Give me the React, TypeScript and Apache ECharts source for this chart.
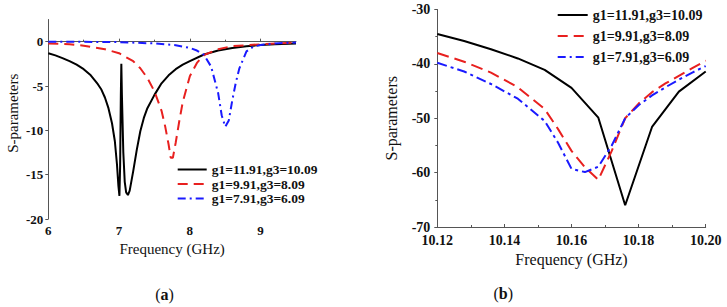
import React, { useEffect, useRef } from "react";
import * as echarts from "echarts";

// ---------- Panel (a) data ----------
const aFreqBlack = [6.0, 6.1, 6.2, 6.3, 6.4, 6.5, 6.6, 6.7, 6.75, 6.8, 6.85, 6.9, 6.94, 6.97, 6.99, 7.005, 7.015, 7.025, 7.032, 7.04, 7.06, 7.08, 7.1, 7.125, 7.15, 7.2, 7.25, 7.3, 7.35, 7.4, 7.5, 7.6, 7.7, 7.8, 7.9, 8.0, 8.2, 8.4, 8.6, 8.8, 9.0, 9.2, 9.5];
const aBlack = [-1.3, -1.55, -1.85, -2.2, -2.6, -3.1, -3.8, -4.8, -5.4, -6.3, -7.5, -9.2, -11.2, -13.8, -16.2, -17.4, -14, -6, -2.5, -6, -12.5, -15.8, -17, -17.3, -16.8, -14.6, -12.2, -10.1, -8.6, -7.5, -6.0, -4.7, -3.8, -3.1, -2.6, -2.2, -1.45, -1.0, -0.72, -0.52, -0.38, -0.3, -0.2];

const aFreqRed = [6.0, 6.3, 6.5, 6.8, 7.0, 7.2, 7.3, 7.4, 7.5, 7.6, 7.65, 7.7, 7.73, 7.76, 7.8, 7.85, 7.9, 8.0, 8.1, 8.2, 8.4, 8.6, 9.0, 9.5];
const aRed = [-0.2, -0.3, -0.45, -0.85, -1.3, -2.2, -3.0, -4.1, -5.6, -7.8, -9.5, -11.6, -13.1, -13.1, -11.4, -9.0, -6.8, -3.9, -2.4, -1.5, -0.85, -0.5, -0.3, -0.1];

const aFreqBlue = [6.0, 6.5, 7.0, 7.5, 7.8, 8.0, 8.1, 8.2, 8.3, 8.4, 8.45, 8.5, 8.55, 8.6, 8.65, 8.7, 8.8, 8.9, 9.0, 9.2, 9.5];
const aBlue = [0, -0.02, -0.05, -0.2, -0.4, -0.7, -1.0, -1.5, -2.8, -5.8, -8.3, -9.6, -8.9, -6.6, -4.6, -3.0, -1.1, -0.55, -0.38, -0.2, -0.1];

// ---------- Panel (b) data ----------
const bFreqBlack = [10.12, 10.128, 10.136, 10.144, 10.152, 10.16, 10.168, 10.176, 10.184, 10.192, 10.2];
const bBlack = [-34.5, -35.8, -37.3, -39.0, -41.1, -44.4, -49.9, -66.0, -51.6, -45.1, -41.4];

const bFreqRB = [10.12, 10.128, 10.136, 10.144, 10.152, 10.156, 10.16, 10.164, 10.168, 10.172, 10.176, 10.18, 10.184, 10.188, 10.192, 10.196, 10.2];
const bRed = [-38.0, -39.6, -41.6, -44.3, -48.3, -52.0, -56.0, -59.0, -61.3, -56.0, -50.0, -47.3, -45.2, -43.6, -42.2, -40.8, -39.4];
const bBlue = [-39.8, -41.4, -43.7, -46.4, -50.5, -54.5, -59.3, -59.9, -58.9, -55.0, -50.0, -47.6, -45.8, -44.3, -42.9, -41.6, -40.4];

const names = ["g1=11.91,g3=10.09", "g1=9.91,g3=8.09", "g1=7.91,g3=6.09"];
const aXTicks = [6, 7, 8, 9];
const aYTicks = [-20, -15, -10, -5, 0];

const zip = (xs: number[], ys: number[]) => xs.map((x, i) => [x, ys[i]]);

const FONT = "Liberation Serif";
const AXIS = "#555";
const BLACK = "#000000";
const RED = "#e8201f";
const BLUE = "#1a1aff";

export default function App() {
  const ref = useRef<HTMLDivElement>(null);
  useEffect(() => {
    if (!ref.current) return;
    const chart = echarts.init(ref.current, undefined, { renderer: "svg" });
    const lineSeries = (
      name: string,
      data: number[][],
      idx: number,
      color: string,
      type: any,
      width: number
    ) => ({
      type: "line",
      name,
      data,
      xAxisIndex: idx,
      yAxisIndex: idx,
      showSymbol: false,
      symbol: "none",
      smooth: false,
      lineStyle: { color, width, type },
      itemStyle: { color },
      z: 3,
    });
    const legendBase = {
      orient: "vertical",
      padding: 0,
      selectedMode: false,
      data: names,
      itemStyle: { opacity: 0 },
    };
    const option: any = {
      animation: false,
      backgroundColor: "#ffffff",
      textStyle: { fontFamily: FONT },
      grid: [
        { left: 48.3, top: 19.5, width: 247.7, height: 199.5 },
        { left: 437.3, top: 9.5, width: 268.4, height: 217.5 },
      ],
      xAxis: [
        {
          gridIndex: 0,
          type: "value",
          min: 6,
          max: 9.5,
          interval: 1,
          name: "Frequency (GHz)",
          nameLocation: "middle",
          nameGap: 21,
          nameTextStyle: { fontFamily: FONT, fontSize: 15, color: "#111" },
          axisLine: { lineStyle: { color: AXIS, width: 1 } },
          axisTick: { inside: true, length: 3, lineStyle: { color: AXIS }, customValues: aXTicks },
          minorTick: { show: true, splitNumber: 2, length: 2, lineStyle: { color: AXIS } },
          axisLabel: {
            customValues: aXTicks,
            fontFamily: FONT,
            fontSize: 13,
            fontWeight: "bold",
            color: "#111",
            margin: 5,
          },
          splitLine: { show: false },
        },
        {
          gridIndex: 1,
          type: "value",
          min: 10.12,
          max: 10.2,
          interval: 0.02,
          name: "Frequency (GHz)",
          nameLocation: "middle",
          nameGap: 24,
          nameTextStyle: { fontFamily: FONT, fontSize: 16, color: "#111" },
          axisLine: { lineStyle: { color: AXIS, width: 1 } },
          axisTick: { inside: true, length: 3, lineStyle: { color: AXIS } },
          minorTick: { show: true, splitNumber: 2, length: 2, lineStyle: { color: AXIS } },
          axisLabel: {
            formatter: (v: number) => v.toFixed(2),
            fontFamily: FONT,
            fontSize: 14,
            fontWeight: "bold",
            color: "#111",
            margin: 6,
          },
          splitLine: { show: false },
        },
      ],
      yAxis: [
        {
          gridIndex: 0,
          type: "value",
          min: -20,
          max: 2.5,
          interval: 5,
          name: "S-parameters",
          nameLocation: "middle",
          nameGap: 28,
          nameTextStyle: { fontFamily: FONT, fontSize: 15, color: "#111", padding: [0, 0, 0, 12] },
          axisLine: { show: true, lineStyle: { color: AXIS, width: 1 } },
          axisTick: { show: true, inside: false, length: 3, lineStyle: { color: AXIS }, customValues: aYTicks },
          axisLabel: {
            customValues: aYTicks,
            fontFamily: FONT,
            fontSize: 13,
            fontWeight: "bold",
            color: "#111",
            margin: 5,
          },
          splitLine: { show: false },
        },
        {
          gridIndex: 1,
          type: "value",
          min: -70,
          max: -30,
          interval: 10,
          name: "S-parameters",
          nameLocation: "middle",
          nameGap: 38,
          nameTextStyle: { fontFamily: FONT, fontSize: 16, color: "#111" },
          axisLine: { show: true, lineStyle: { color: AXIS, width: 1 } },
          axisTick: { show: true, inside: false, length: 3, lineStyle: { color: AXIS } },
          minorTick: { show: true, splitNumber: 2, length: 2, lineStyle: { color: AXIS } },
          axisLabel: {
            fontFamily: FONT,
            fontSize: 14,
            fontWeight: "bold",
            color: "#111",
            margin: 7,
          },
          splitLine: { show: false },
        },
      ],
      legend: [
        {
          ...legendBase,
          left: 176.7,
          top: 162.5,
          itemWidth: 29,
          itemHeight: 10,
          itemGap: 0.5,
          textStyle: { fontFamily: FONT, fontSize: 13.5, fontWeight: "bold", color: "#111", lineHeight: 13 },
        },
        {
          ...legendBase,
          left: 556.7,
          top: 8,
          itemWidth: 30,
          itemHeight: 12,
          itemGap: 7,
          textStyle: { fontFamily: FONT, fontSize: 14, fontWeight: "bold", color: "#111", lineHeight: 14 },
        },
      ],
      series: [
        lineSeries(names[0], zip(aFreqBlack, aBlack), 0, BLACK, "solid", 2),
        lineSeries(names[1], zip(aFreqRed, aRed), 0, RED, [10, 6], 2),
        lineSeries(names[2], zip(aFreqBlue, aBlue), 0, BLUE, [8, 4, 2, 4], 2),
        lineSeries(names[0], zip(bFreqBlack, bBlack), 1, BLACK, "solid", 2),
        lineSeries(names[1], zip(bFreqRB, bRed), 1, RED, [12, 6], 2),
        lineSeries(names[2], zip(bFreqRB, bBlue), 1, BLUE, [10, 4, 3, 4], 2),
      ],
      graphic: [
        {
          type: "text",
          x: 164.5,
          y: 294,
          style: {
            text: "{p|(}{b|a}{p|)}",
            align: "center",
            verticalAlign: "middle",
            rich: {
              p: { fontFamily: FONT, fontSize: 16, fill: "#111" },
              b: { fontFamily: FONT, fontSize: 16, fontWeight: "bold", fill: "#111" },
            },
          },
        },
        {
          type: "text",
          x: 503.3,
          y: 293,
          style: {
            text: "{p|(}{b|b}{p|)}",
            align: "center",
            verticalAlign: "middle",
            rich: {
              p: { fontFamily: FONT, fontSize: 16, fill: "#111" },
              b: { fontFamily: FONT, fontSize: 16, fontWeight: "bold", fill: "#111" },
            },
          },
        },
      ],
    };
    chart.setOption(option);
    return () => chart.dispose();
  }, []);
  return (
    <div
      ref={ref}
      style={{ position: "fixed", left: 0, top: 0, width: 727, height: 307, background: "#fff" }}
    />
  );
}
